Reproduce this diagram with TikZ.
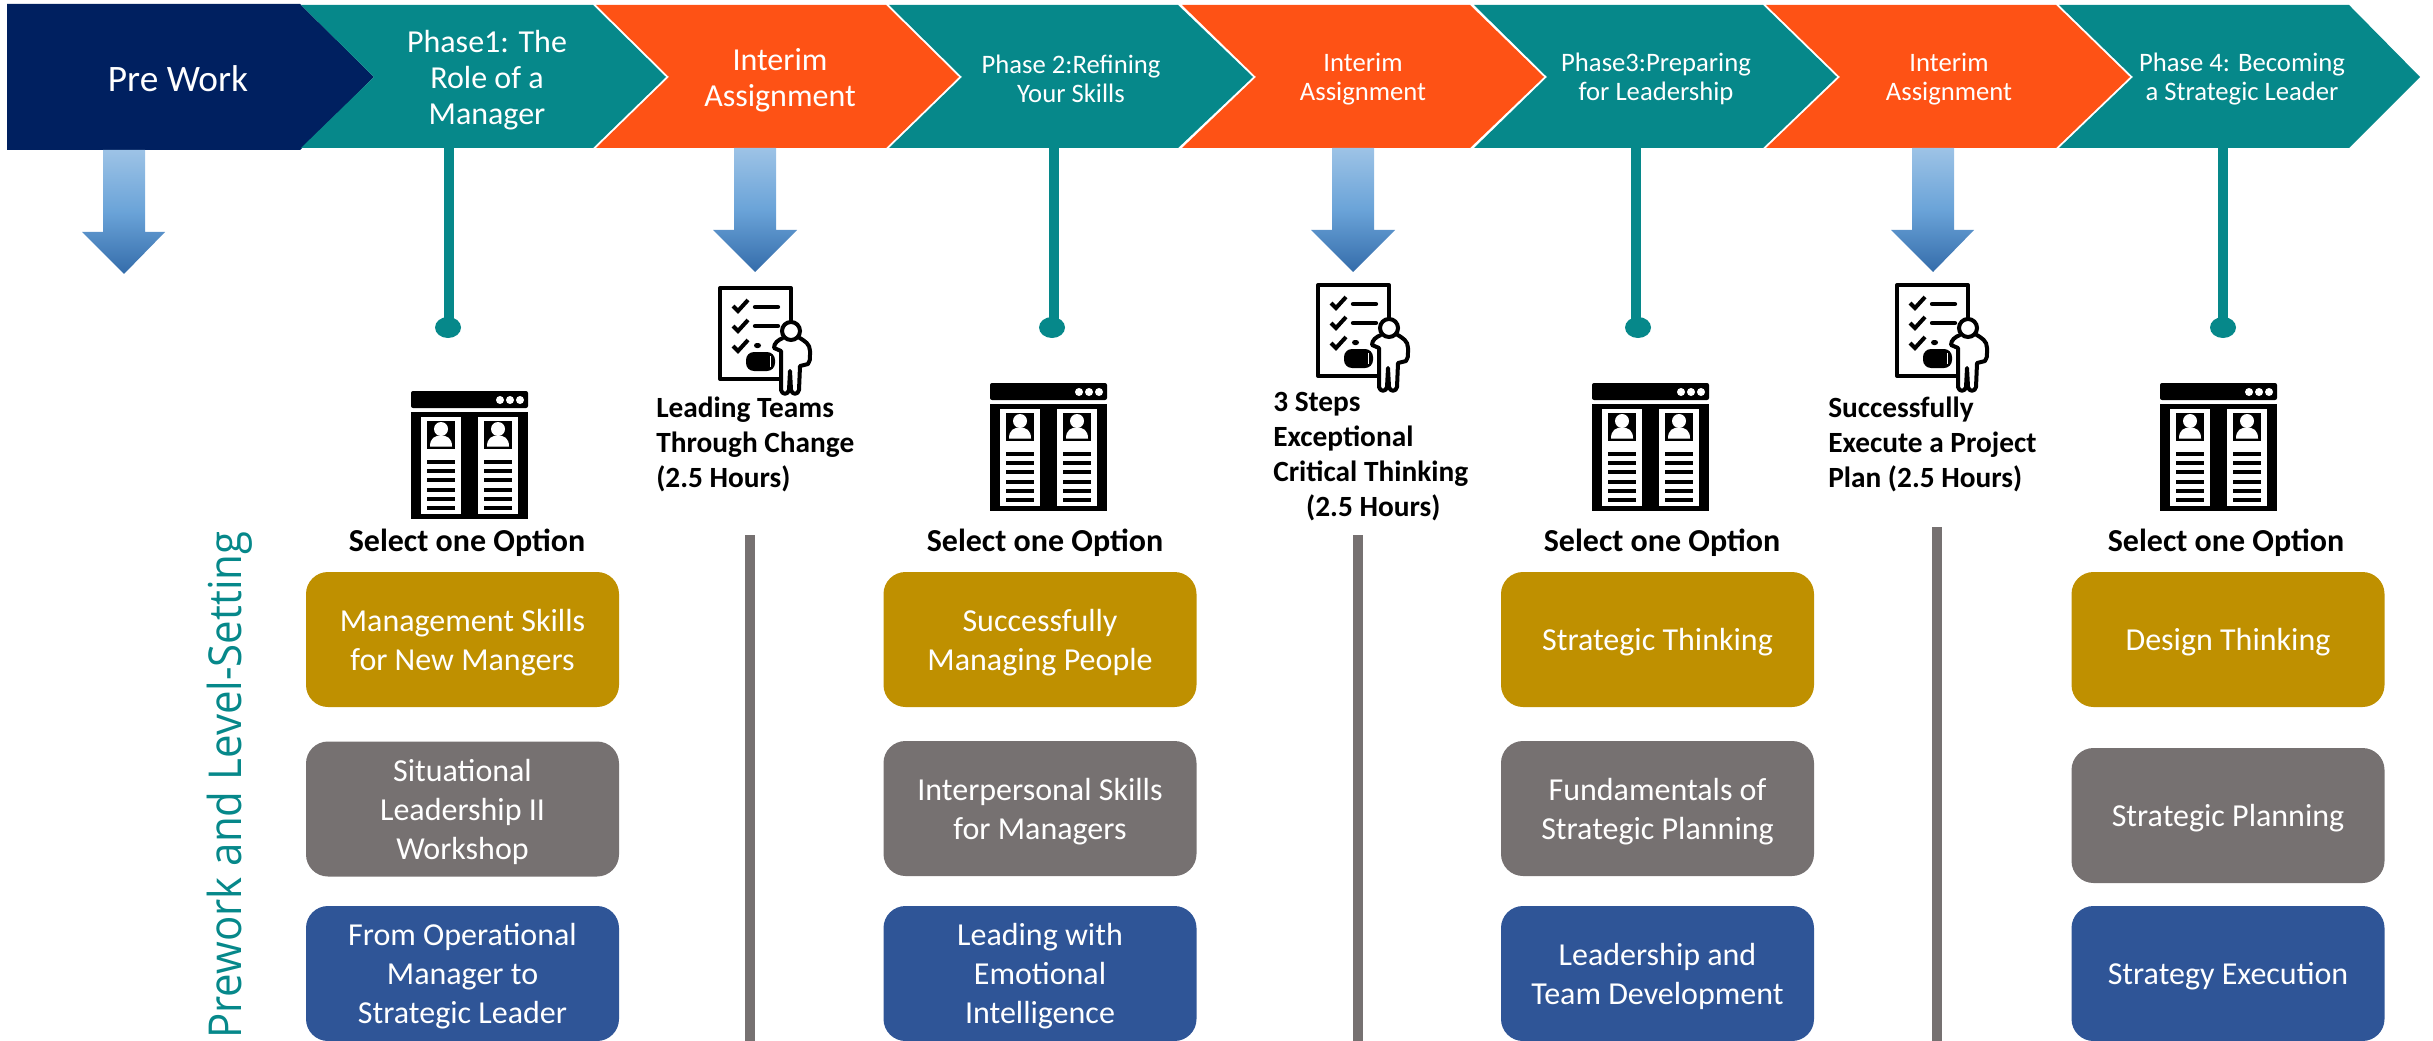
\documentclass[tikz,border=0pt]{standalone}
\usepackage{fontspec}
\setmainfont{Carlito}
\newfontfamily\sidefont{Open Sans}
\usetikzlibrary{shapes.geometric}

\definecolor{navyc}{RGB}{0,32,96}
\definecolor{tealc}{RGB}{6,136,138}
\definecolor{orangec}{RGB}{254,82,21}
\definecolor{goldc}{RGB}{191,144,0}
\definecolor{grayc}{RGB}{118,113,113}
\definecolor{bluec}{RGB}{47,85,151}
\definecolor{arrowtop}{RGB}{157,195,230}
\definecolor{arrowmid}{RGB}{106,163,216}
\definecolor{arrowbot}{RGB}{52,108,170}

\tikzset{
  chevtext/.style={text=white,align=center,inner sep=0pt},
  bigtext/.style={chevtext,font=\fontsize{24}{26.8}\selectfont},
  smalltext/.style={chevtext,font=\fontsize{20}{21.4}\selectfont},
  optbox/.style={rounded corners=16.5pt,minimum width=234.75pt,minimum height=101.25pt,inner sep=0pt},
  opttext/.style={inner sep=0pt,yshift=-2.25pt,text=white,align=center,font=\fontsize{24}{29.25}\selectfont},
  selecttext/.style={inner sep=0pt,font=\bfseries\fontsize{24}{28}\selectfont},
  tasktext/.style={inner sep=0pt,align=left,font=\bfseries\fontsize{22}{26.25}\selectfont},
  downarrow/.style={top color=arrowtop,bottom color=arrowbot,middle color=arrowmid},
  stem/.style={draw=tealc,line width=7.5pt},
  stemdot/.style={ellipse,fill=tealc,inner sep=0pt,minimum width=19.5pt,minimum height=15.75pt},
  divider/.style={draw=grayc,line width=7.5pt},
  browsericon/.pic={
    \begin{scope}[yscale=-1]
    \fill[black,rounded corners=1.5pt] (0,0) rectangle (117,17);
    \fill[black] (0,21) rectangle (117,128);
    \foreach \dotx in {89,99,109} \fill[white] (\dotx,9) circle (4);
    \foreach \colx in {10,67} {
      \fill[white] (\colx,26) rectangle ++(40,97);
      \fill[black] (\colx+6,30) rectangle ++(28,28);
      \fill[white] (\colx+20,38) circle (7);
      \fill[white] (\colx+9,55.5) .. controls (\colx+9,47) and (\colx+14,44.5) .. (\colx+20,44.5) .. controls (\colx+26,44.5) and (\colx+31,47) .. (\colx+31,55.5) -- cycle;
      \foreach \liney in {71,80,89,99,108,117} \fill[black] (\colx+6,\liney-1.7) rectangle ++(28,3.4);
    }
    \end{scope}
  },
  checkicon/.pic={
    \begin{scope}[yscale=-1]
    \draw[line width=3pt,line join=round] (60,91) -- (0,91) -- (0,0) -- (71,0) -- (71,35);
    \foreach \chy in {0,20,40} {
      \draw[line width=3pt] (13,18+\chy) -- (18,23+\chy) -- (28,12+\chy);
    }
    \draw[line width=3.2pt,line cap=round] (35,19) -- (58,19);
    \draw[line width=3.2pt,line cap=round] (35,38) -- (58,38);
    \fill[black,rounded corners=2pt] (34,55) rectangle (41,60);
    \fill[black,rounded corners=6pt] (26,64) rectangle (55,83);
    \draw[white,line width=0.6pt] (50,68) -- (50,79);
    \draw[line width=3pt,fill=white,line join=round] (63,50) .. controls (58,52) and (54,55) .. (54,60) -- (61,63) -- (61,102) .. controls (62,107) and (68,107) .. (69,102) -- (70,83) -- (71,102) .. controls (72,107) and (78,107) .. (79,102) -- (80,78) -- (88,76) .. controls (90,74) and (90,72) .. (90,63) .. controls (90,56) and (85,53) .. (78,49);
    \draw[line width=3pt,fill=white] (71,43) circle (9);
    \end{scope}
  }
}

\begin{document}
\begin{tikzpicture}[x=0.75pt,y=0.75pt,yscale=-1,xscale=1]
\useasboundingbox (0,0) rectangle (2433,1041);

%Shape: chevrons along the top
\fill[navyc] (7,4) -- (300,4) -- (374,77) -- (300,150) -- (7,150) -- cycle;
\fill[tealc] (301,5) -- (593,5) -- (666,77) -- (593,148) -- (301,148) -- (374,77) -- cycle;
\fill[orangec] (596,5) -- (886,5) -- (959,77) -- (886,148) -- (596,148) -- (669,77) -- cycle;
\fill[tealc] (889,5) -- (1178,5) -- (1253,77) -- (1178,148) -- (889,148) -- (962,77) -- cycle;
\fill[orangec] (1182,5) -- (1470,5) -- (1544,77) -- (1470,148) -- (1182,148) -- (1256,77) -- cycle;
\fill[tealc] (1474,5) -- (1763,5) -- (1837,77) -- (1763,148) -- (1474,148) -- (1547,77) -- cycle;
\fill[orangec] (1766,5) -- (2056,5) -- (2130,77) -- (2056,148) -- (1766,148) -- (1840,77) -- cycle;
\fill[tealc] (2059,5) -- (2349,5) -- (2420,77) -- (2349,148) -- (2059,148) -- (2133,77) -- cycle;

% Text Node
\node[chevtext,font=\fontsize{28}{32}\selectfont] (prework) at (178,79) {Pre Work};
\node[bigtext] (phaseone) at (487,80) {Phase1: The\\Role of a\\Manager};
\node[bigtext] (interimone) at (780,80) {Interim\\Assignment};
\node[smalltext] (phasetwo) at (1071,79) {Phase 2:Refining\\Your Skills};
\node[smalltext] (interimtwo) at (1363,79) {Interim\\Assignment};
\node[smalltext] (phasethree) at (1656,79) {Phase3:Preparing\\for Leadership};
\node[smalltext] (interimthree) at (1949,79) {Interim\\Assignment};
\node[smalltext] (phasefour) at (2242,79) {Phase 4: Becoming\\a Strategic Leader};

%Shape: gradient arrows
\path[downarrow] (103,150) -- (145,150) -- (145,232) -- (165,232) -- (124,274) -- (82,232) -- (103,232) -- cycle;
\path[downarrow] (734,148) -- (776,148) -- (776,230) -- (797,230) -- (755,272) -- (713,230) -- (734,230) -- cycle;
\path[downarrow] (1332,148) -- (1374,148) -- (1374,230) -- (1395,230) -- (1353,272) -- (1311,230) -- (1332,230) -- cycle;
\path[downarrow] (1912,148) -- (1954,148) -- (1954,230) -- (1974,230) -- (1933,272) -- (1891,230) -- (1912,230) -- cycle;

%Shape: stems with their dots
\coordinate (stemone) at (449,148);
\coordinate (stemtwo) at (1054,148);
\coordinate (stemthree) at (1636,148);
\coordinate (stemfour) at (2223,148);
\node[stemdot] (dotone) at (448,327.5) {};
\node[stemdot] (dottwo) at (1052,327.5) {};
\node[stemdot] (dotthree) at (1638,327.5) {};
\node[stemdot] (dotfour) at (2223,327.5) {};
\draw[stem] (stemone) -- (stemone |- dotone);
\draw[stem] (stemtwo) -- (stemtwo |- dottwo);
\draw[stem] (stemthree) -- (stemthree |- dotthree);
\draw[stem] (stemfour) -- (stemfour |- dotfour);

%Shape: icons
\pic at (411,391) {browsericon};
\pic at (990,383) {browsericon};
\pic at (1592,383) {browsericon};
\pic at (2160,383) {browsericon};
\pic at (720,288) {checkicon};
\pic at (1318,285) {checkicon};
\pic at (1897,285) {checkicon};

% Text Node
\node[selecttext] (selectone) at (467,543) {Select one Option};
\node[selecttext] (selecttwo) at (1045,543) {Select one Option};
\node[selecttext] (selectthree) at (1662,543) {Select one Option};
\node[selecttext] (selectfour) at (2226,543) {Select one Option};
\node[tasktext,anchor=west] (taskone) at (656,444) {Leading Teams\\Through Change\\(2.5 Hours)};
\node[tasktext,anchor=west] (tasktwo) at (1273,457) {3 Steps\\Exceptional\\Critical Thinking\\\hspace*{24.7pt}(2.5 Hours)};
\node[tasktext,anchor=west] (taskthree) at (1828,444) {Successfully\\Execute a Project\\Plan (2.5 Hours)};
\node[inner sep=0pt,rotate=90,yscale=1.08,text=tealc,font=\sidefont\fontsize{31.5}{40}\selectfont] (sidetext) at (230,785) {Prework and Level-Setting};

%Shape: dividers
\draw[divider] (750,535) -- (750,1041);
\draw[divider] (1358,535) -- (1358,1041);
\draw[divider] (1937,527) -- (1937,1041);

%Option boxes
\node[optbox,fill=goldc,label={[opttext]center:Management Skills\\for New Mangers}] (goldone) at (462.5,639.5) {};
\node[optbox,fill=grayc,label={[opttext]center:Situational\\Leadership II\\Workshop}] (grayone) at (462.5,809) {};
\node[optbox,fill=bluec,label={[opttext]center:From Operational\\Manager to\\Strategic Leader}] (blueone) at (462.5,973.5) {};
\node[optbox,fill=goldc,label={[opttext]center:Successfully\\Managing People}] (goldtwo) at (1040,639.5) {};
\node[optbox,fill=grayc,label={[opttext]center:Interpersonal Skills\\for Managers}] (graytwo) at (1040,808.5) {};
\node[optbox,fill=bluec,label={[opttext]center:Leading with\\Emotional\\Intelligence}] (bluetwo) at (1040,973.5) {};
\node[optbox,fill=goldc,label={[opttext]center:Strategic Thinking}] (goldthree) at (1657.5,639.5) {};
\node[optbox,fill=grayc,label={[opttext]center:Fundamentals of\\Strategic Planning}] (graythree) at (1657.5,808.5) {};
\node[optbox,fill=bluec,label={[opttext]center:Leadership and\\Team Development}] (bluethree) at (1657.5,973.5) {};
\node[optbox,fill=goldc,label={[opttext]center:Design Thinking}] (goldfour) at (2228,639.5) {};
\node[optbox,fill=grayc,label={[opttext]center:Strategic Planning}] (grayfour) at (2228,815.5) {};
\node[optbox,fill=bluec,label={[opttext]center:Strategy Execution}] (bluefour) at (2228,973.5) {};

\end{tikzpicture}
\end{document}
